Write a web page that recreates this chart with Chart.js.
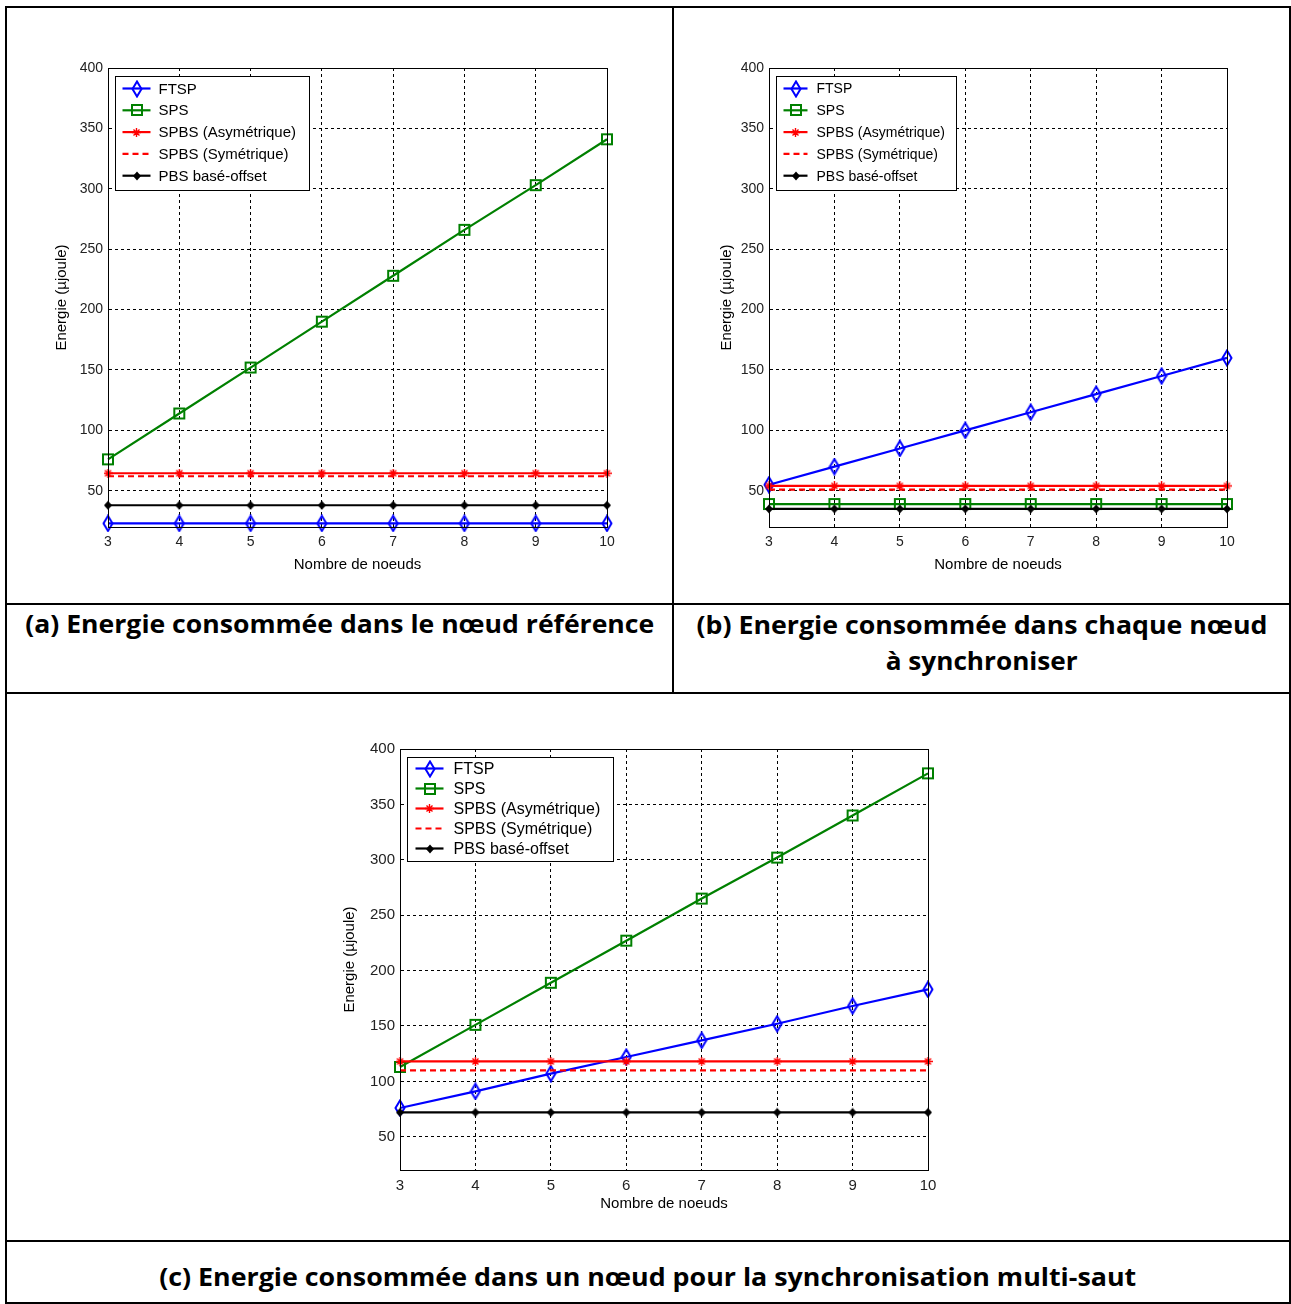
<!DOCTYPE html>
<html>
<head>
<meta charset="utf-8">
<script src="https://cdn.jsdelivr.net/npm/chart.js@4.4.1/dist/chart.umd.min.js"></script>
<style>
  body { margin: 0; background: #fff; width: 1291px; height: 1304px; position: relative; overflow: hidden; }
  .ln { position: absolute; background: #000; }
  canvas { position: absolute; }
  .cap { position: absolute; width: 1200px; text-align: center; font-family: "Open Sans", sans-serif;
         font-weight: 700; font-size: 25px; line-height: 36px; color: #000; white-space: nowrap; }
  .cap span { display: inline-block; transform-origin: center center; }
</style>
</head>
<body>

<!-- table borders -->
<div class="ln" style="left:5px;top:6px;width:1286px;height:2px"></div>
<div class="ln" style="left:5px;top:6px;width:2px;height:1298px"></div>
<div class="ln" style="left:1289px;top:6px;width:2px;height:1298px"></div>
<div class="ln" style="left:5px;top:1302px;width:1286px;height:2px"></div>
<div class="ln" style="left:5px;top:603px;width:1286px;height:2px"></div>
<div class="ln" style="left:5px;top:692px;width:1286px;height:2px"></div>
<div class="ln" style="left:5px;top:1240px;width:1286px;height:2px"></div>
<div class="ln" style="left:672px;top:6px;width:2px;height:688px"></div>

<canvas id="chartA" width="664" height="595" style="left:8px;top:8px"></canvas>
<canvas id="chartB" width="615" height="595" style="left:674px;top:8px"></canvas>
<canvas id="chartC" width="1282" height="546" style="left:7px;top:694px"></canvas>

<div class="cap" style="left:-260px;top:605px"><span data-w="629">(a) Energie consommée dans le nœud référence</span></div>
<div class="cap" style="left:382px;top:606px"><span data-w="571">(b) Energie consommée dans chaque nœud</span></div>
<div class="cap" style="left:382px;top:642px"><span data-w="192">à synchroniser</span></div>
<div class="cap" style="left:48px;top:1258px"><span data-w="977">(c) Energie consommée dans un nœud pour la synchronisation multi-saut</span></div>

<script>
// shared axes
const nodes = [3, 4, 5, 6, 7, 8, 9, 10];
const yTicks = [50, 100, 150, 200, 250, 300, 350, 400];
const seriesNames = ['FTSP', 'SPS', 'SPBS (Asymétrique)', 'SPBS (Symétrique)', 'PBS basé-offset'];
const xTitle = 'Nombre de noeuds';
const yTitle = 'Energie (µjoule)';

// (a) noeud référence
const ftspA = [23, 23, 23, 23, 23, 23, 23, 23];
const spsA = [76, 114, 152, 190, 228, 266, 303, 341];
const asymA = [64.5, 64.5, 64.5, 64.5, 64.5, 64.5, 64.5, 64.5];
const symA = [62, 62, 62, 62, 62, 62, 62, 62];
const pbsA = [38, 38, 38, 38, 38, 38, 38, 38];

// (b) chaque noeud à synchroniser
const ftspB = [55, 70, 85, 100, 115, 130, 145, 160];
const spsB = [39, 39, 39, 39, 39, 39, 39, 39];
const asymB = [54, 54, 54, 54, 54, 54, 54, 54];
const symB = [51, 51, 51, 51, 51, 51, 51, 51];
const pbsB = [35, 35, 35, 35, 35, 35, 35, 35];

// (c) multi-saut
const ftspC = [76, 91, 107, 122, 137, 152, 168, 183];
const spsC = [113, 151, 189, 227, 265, 302, 340, 378];
const asymC = [118, 118, 118, 118, 118, 118, 118, 118];
const symC = [110, 110, 110, 110, 110, 110, 110, 110];
const pbsC = [72, 72, 72, 72, 72, 72, 72, 72];

const FONT = '"Liberation Sans", Arial, sans-serif';

// little canvases used as Matlab-like markers
function marker(w, h, draw) {
    const c = document.createElement('canvas');
    c.width = w;
    c.height = h;
    draw(c.getContext('2d'), w, h);
    return c;
}
const diamond = marker(12, 18, (g, w, h) => {
    g.strokeStyle = '#0000ff';
    g.lineWidth = 2;
    g.beginPath();
    g.moveTo(w / 2, 1.5); g.lineTo(w - 1.5, h / 2); g.lineTo(w / 2, h - 1.5); g.lineTo(1.5, h / 2);
    g.closePath();
    g.stroke();
});
const square = marker(14, 14, (g, w, h) => {
    g.strokeStyle = '#008000';
    g.lineWidth = 2;
    g.strokeRect(2, 2, w - 4, h - 4);
});
const star = marker(9, 9, (g, w, h) => {
    g.strokeStyle = '#ff0000';
    g.lineWidth = 1.4;
    g.beginPath();
    g.moveTo(0, h / 2); g.lineTo(w, h / 2);
    g.moveTo(w / 2, 0); g.lineTo(w / 2, h);
    g.moveTo(1.5, 1.5); g.lineTo(w - 1.5, h - 1.5);
    g.moveTo(w - 1.5, 1.5); g.lineTo(1.5, h - 1.5);
    g.stroke();
});
const dot = marker(10, 10, (g) => {
    g.fillStyle = '#000';
    g.beginPath();
    g.moveTo(5, 0.5); g.lineTo(9, 5); g.lineTo(5, 9.5); g.lineTo(1, 5);
    g.closePath();
    g.fill();
});

const styles = [
    { color: '#0000ff', point: diamond },
    { color: '#008000', point: square },
    { color: '#ff0000', point: star },
    { color: '#ff0000', point: null, dash: [6, 4] },
    { color: '#000000', point: dot }
];

// box, axis titles and the legend inside the plot
const frame = {
    id: 'frame',
    afterDraw(chart, args, o) {
        const { ctx, chartArea: a } = chart;
        ctx.save();
        ctx.strokeStyle = '#000';
        ctx.lineWidth = 1;
        ctx.strokeRect(Math.round(a.left) + 0.5, Math.round(a.top) + 0.5,
            Math.round(a.right - a.left), Math.round(a.bottom - a.top));

        ctx.fillStyle = '#000';
        ctx.textAlign = 'center';
        ctx.textBaseline = 'middle';
        ctx.font = o.titleSize + 'px ' + FONT;
        ctx.fillText(xTitle, (a.left + a.right) / 2, a.bottom + o.xGap);
        ctx.save();
        ctx.translate(a.left - o.yGap, (a.top + a.bottom) / 2);
        ctx.rotate(-Math.PI / 2);
        ctx.fillText(yTitle, 0, 0);
        ctx.restore();

        // legend
        const ds = chart.data.datasets;
        ctx.font = o.legendSize + 'px ' + FONT;
        const tw = Math.max(...ds.map(d => ctx.measureText(d.label).width));
        const bx = Math.round(a.left + o.lx) + 0.5;
        const by = Math.round(a.top + o.ly) + 0.5;
        const bw = Math.round(o.textX + tw + o.padR);
        const bh = Math.round(o.rowTop + o.rowH * (ds.length - 1) + o.rowBot);
        ctx.fillStyle = '#fff';
        ctx.fillRect(bx, by, bw, bh);
        ctx.strokeStyle = '#000';
        ctx.strokeRect(bx, by, bw, bh);
        ds.forEach((d, i) => {
            const y = by + o.rowTop + o.rowH * i;
            ctx.strokeStyle = d.borderColor;
            ctx.lineWidth = 2.2;
            ctx.setLineDash(d.borderDash || []);
            ctx.beginPath();
            ctx.moveTo(bx + o.lineX0, y);
            ctx.lineTo(bx + o.lineX1, y);
            ctx.stroke();
            ctx.setLineDash([]);
            if (d.marker) {
                const m = d.marker;
                ctx.drawImage(m, Math.round(bx + (o.lineX0 + o.lineX1) / 2 - m.width / 2), Math.round(y - m.height / 2));
            }
            ctx.fillStyle = '#000';
            ctx.textAlign = 'left';
            ctx.fillText(d.label, bx + o.textX, y + 1);
        });
        ctx.restore();
    }
};

function makeChart(id, series, lay, fr) {
    const datasets = series.map((vals, i) => ({
        label: seriesNames[i],
        data: nodes.map((n, k) => ({ x: n, y: vals[k] })),
        borderColor: styles[i].color,
        backgroundColor: styles[i].color,
        borderWidth: 2.2,
        borderDash: styles[i].dash || [],
        pointStyle: styles[i].point || false,
        pointRadius: styles[i].point ? 4 : 0,
        tension: 0,
        clip: false,
        order: 10 - i,
        marker: styles[i].point
    }));
    const tickFont = { family: FONT, size: lay.tick };
    return new Chart(document.getElementById(id), {
        type: 'line',
        data: { datasets },
        options: {
            responsive: false,
            animation: false,
            devicePixelRatio: 1,
            layout: { padding: { top: lay.top, right: lay.right, left: 0, bottom: 0 } },
            plugins: { legend: { display: false }, tooltip: { enabled: false }, frame: fr },
            scales: {
                x: {
                    type: 'linear', min: 3, max: 10,
                    afterFit: s => { s.height = lay.bottom; },
                    ticks: { stepSize: 1, color: '#222', font: tickFont, padding: 7, maxRotation: 0, autoSkip: false },
                    grid: { color: '#000', lineWidth: 1, drawTicks: false },
                    border: { display: true, color: '#000', width: 1, dash: [3, 3] }
                },
                y: {
                    type: 'linear', min: 20, max: 400,
                    afterFit: s => { s.width = lay.left; },
                    afterBuildTicks: s => { s.ticks = yTicks.map(v => ({ value: v })); },
                    ticks: { color: '#222', font: tickFont, padding: 5 },
                    grid: { color: '#000', lineWidth: 1, drawTicks: false },
                    border: { display: true, color: '#000', width: 1, dash: [3, 3] }
                }
            }
        },
        plugins: [frame]
    });
}

makeChart('chartA', [ftspA, spsA, asymA, symA, pbsA],
    { top: 60, right: 65, left: 100, bottom: 76, tick: 14 },
    { titleSize: 15, xGap: 38, yGap: 46, legendSize: 15, lx: 7, ly: 8, rowTop: 12, rowH: 21.8, rowBot: 15,
      lineX0: 7, lineX1: 35, textX: 43, padR: 13 });

makeChart('chartB', [ftspB, spsB, asymB, symB, pbsB],
    { top: 60, right: 62, left: 95, bottom: 76, tick: 14 },
    { titleSize: 15, xGap: 38, yGap: 42, legendSize: 14, lx: 7, ly: 8, rowTop: 12, rowH: 21.8, rowBot: 15,
      lineX0: 7, lineX1: 31, textX: 40, padR: 12 });

makeChart('chartC', [ftspC, spsC, asymC, symC, pbsC],
    { top: 55, right: 361, left: 393, bottom: 70, tick: 15 },
    { titleSize: 15, xGap: 34, yGap: 50, legendSize: 16, lx: 7, ly: 8, rowTop: 11, rowH: 20, rowBot: 13,
      lineX0: 8, lineX1: 36, textX: 46, padR: 13 });

// squeeze captions to the reference width
document.querySelectorAll('.cap span').forEach(s => {
    const w = s.getBoundingClientRect().width;
    s.style.transform = 'scaleX(' + (Number(s.dataset.w) / w) + ')';
});
</script>
</body>
</html>
